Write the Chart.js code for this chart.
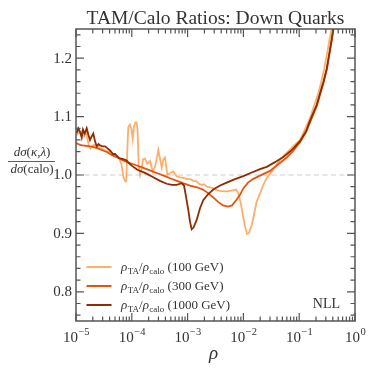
<!DOCTYPE html>
<html>
<head>
<meta charset="utf-8">
<script src="https://cdn.jsdelivr.net/npm/chart.js@4/dist/chart.umd.min.js"></script>
<style>
  html, body { margin: 0; padding: 0; background: #fff; }
</style>
</head>
<body>
<canvas id="ratios" width="374" height="374"></canvas>
<script>
// values; rho is stored as log10(rho)
var logRho100 = [-4.987,-4.955,-4.916,-4.884,-4.857,-4.821,-4.794,-4.767,-4.740,-4.713,-4.677,-4.642,-4.606,-4.570,-4.516,-4.462,-4.409,-4.355,-4.283,-4.229,-4.185,-4.152,-4.122,-4.100,-4.081,-4.063,-4.032,-4.005,-3.984,-3.961,-3.934,-3.916,-3.898,-3.876,-3.853,-3.826,-3.799,-3.763,-3.722,-3.674,-3.625,-3.584,-3.548,-3.525,-3.504,-3.464,-3.432,-3.405,-3.384,-3.364,-3.315,-3.256,-3.195,-3.136,-3.077,-3.011,-2.957,-2.894,-2.837,-2.796,-2.747,-2.706,-2.658,-2.599,-2.539,-2.473,-2.419,-2.348,-2.294,-2.240,-2.181,-2.133,-2.097,-2.043,-2.007,-1.971,-1.935,-1.900,-1.851,-1.810,-1.762,-1.703,-1.649,-1.582,-1.505,-1.403,-1.326,-1.224,-1.111,-0.986,-0.896,-0.806,-0.735,-0.663,-0.609,-0.556,-0.502,-0.457,-0.412];
var ratio100 = [1.068,1.073,1.070,1.076,1.066,1.074,1.062,1.048,1.045,1.050,1.052,1.047,1.050,1.046,1.044,1.041,1.040,1.035,1.031,1.029,1.018,0.997,0.990,0.989,1.040,1.082,1.086,1.078,1.062,1.083,1.090,1.090,1.080,1.015,1.000,1.010,1.027,1.028,1.019,1.024,1.006,1.014,1.030,1.043,1.033,1.013,1.027,1.030,1.016,1.000,1.003,1.006,0.998,0.996,0.995,0.993,0.993,0.990,0.989,0.985,0.983,0.984,0.980,0.979,0.977,0.974,0.973,0.972,0.972,0.973,0.974,0.975,0.970,0.950,0.930,0.912,0.899,0.901,0.914,0.932,0.955,0.968,0.982,0.995,1.004,1.018,1.028,1.038,1.049,1.060,1.078,1.098,1.118,1.138,1.158,1.180,1.207,1.232,1.252];

var logRho300 = [-5.000,-4.916,-4.821,-4.737,-4.618,-4.516,-4.439,-4.355,-4.260,-4.176,-4.081,-3.961,-3.841,-3.674,-3.543,-3.405,-3.303,-3.190,-3.082,-2.957,-2.832,-2.724,-2.634,-2.545,-2.455,-2.366,-2.276,-2.204,-2.120,-2.061,-2.002,-1.918,-1.828,-1.703,-1.523,-1.380,-1.224,-1.111,-0.986,-0.878,-0.806,-0.686,-0.627,-0.564,-0.507,-0.457,-0.418,-0.382];
var ratio300 = [1.055,1.051,1.050,1.049,1.046,1.042,1.039,1.034,1.030,1.026,1.022,1.018,1.014,1.008,1.003,0.998,0.994,0.990,0.986,0.982,0.979,0.975,0.969,0.962,0.954,0.948,0.946,0.948,0.958,0.966,0.977,0.987,0.993,0.999,1.007,1.018,1.030,1.041,1.056,1.073,1.090,1.118,1.137,1.158,1.180,1.208,1.230,1.252];

var logRho1000 = [-4.987,-4.959,-4.928,-4.898,-4.875,-4.844,-4.808,-4.776,-4.749,-4.719,-4.690,-4.660,-4.629,-4.597,-4.570,-4.529,-4.480,-4.439,-4.391,-4.337,-4.301,-4.229,-4.152,-4.091,-4.050,-4.002,-3.901,-3.794,-3.710,-3.615,-3.495,-3.375,-3.280,-3.195,-3.106,-3.064,-3.023,-2.987,-2.957,-2.927,-2.894,-2.837,-2.778,-2.719,-2.634,-2.539,-2.419,-2.299,-2.151,-2.002,-1.882,-1.703,-1.582,-1.434,-1.285,-1.129,-0.986,-0.878,-0.806,-0.686,-0.627,-0.564,-0.507,-0.457,-0.418,-0.385];
var ratio1000 = [1.072,1.080,1.074,1.064,1.078,1.071,1.080,1.068,1.060,1.066,1.071,1.058,1.049,1.053,1.051,1.049,1.049,1.046,1.042,1.036,1.036,1.029,1.027,1.025,1.020,1.016,1.009,1.005,1.001,0.996,0.990,0.985,0.983,0.983,0.986,0.982,0.960,0.940,0.920,0.907,0.910,0.923,0.943,0.957,0.967,0.975,0.982,0.987,0.993,0.998,1.003,1.010,1.014,1.022,1.031,1.043,1.058,1.075,1.093,1.120,1.140,1.160,1.182,1.210,1.232,1.252];

var seriesNames = ['(100 GeV)', '(300 GeV)', '(1000 GeV)'];
var seriesColors = ['#fdae6b', '#e6550d', '#8c2d04'];

var xMajor = [1e-5, 1e-4, 1e-3, 1e-2, 1e-1, 1];
var xExponents = ['\u22125', '\u22124', '\u22123', '\u22122', '\u22121', '0'];
var yMajor = [0.8, 0.9, 1.0, 1.1, 1.2];
var yTickLabels = ['0.8', '0.9', '1.0', '1.1', '1.2'];
var unity = 1.0;

var serif = '"Liberation Serif", "DejaVu Serif", serif';

function toPoints(lx, vals) {
	var pts = [];
	for (var i = 0; i < lx.length; i++) {
		pts.push({x: Math.pow(10, lx[i]), y: vals[i]});
	}
	return pts;
}

// draws "rho_TA/rho_calo" and returns end x
function drawRhoRatio(ctx, x, y, size) {
	var sub = Math.round(size * 0.7);
	ctx.font = 'italic ' + size + 'px ' + serif;
	ctx.fillText('\u03c1', x, y); x += ctx.measureText('\u03c1').width + 0.5;
	ctx.font = sub + 'px ' + serif;
	ctx.fillText('TA', x, y + 2.5); x += ctx.measureText('TA').width;
	ctx.font = size + 'px ' + serif;
	ctx.fillText('/', x, y); x += ctx.measureText('/').width;
	ctx.font = 'italic ' + size + 'px ' + serif;
	ctx.fillText('\u03c1', x, y); x += ctx.measureText('\u03c1').width + 0.5;
	ctx.font = sub + 'px ' + serif;
	ctx.fillText('calo', x, y + 2.5); x += ctx.measureText('calo').width;
	return x;
}

function drawPieces(ctx, pieces, x, y, size) {
	for (var i = 0; i < pieces.length; i++) {
		ctx.font = (pieces[i][1] ? 'italic ' : '') + size + 'px ' + serif;
		ctx.fillText(pieces[i][0], x, y);
		x += ctx.measureText(pieces[i][0]).width;
	}
	return x;
}

function piecesWidth(ctx, pieces, size) {
	var w = 0;
	for (var i = 0; i < pieces.length; i++) {
		ctx.font = (pieces[i][1] ? 'italic ' : '') + size + 'px ' + serif;
		w += ctx.measureText(pieces[i][0]).width;
	}
	return w;
}

var decor = {
	id: 'decor',
	beforeDatasetsDraw: function(chart) {
		var ctx = chart.ctx, a = chart.chartArea;
		var py = chart.scales.y.getPixelForValue(unity);
		ctx.save();
		ctx.strokeStyle = '#cccccc';
		ctx.lineWidth = 1;
		ctx.setLineDash([5, 3.5]);
		ctx.beginPath();
		ctx.moveTo(a.left, py);
		ctx.lineTo(a.right, py);
		ctx.stroke();
		ctx.restore();
	},
	afterDraw: function(chart) {
		var ctx = chart.ctx, a = chart.chartArea;
		var xs = chart.scales.x, ys = chart.scales.y;
		ctx.save();
		ctx.strokeStyle = '#555555';
		ctx.lineWidth = 1.2;

		// ticks, inward on all four sides
		ctx.beginPath();
		for (var d = -5; d <= 0; d++) {
			var px = xs.getPixelForValue(Math.pow(10, d));
			ctx.moveTo(px, a.bottom); ctx.lineTo(px, a.bottom - 8);
			ctx.moveTo(px, a.top); ctx.lineTo(px, a.top + 8);
			if (d < 0) {
				for (var k = 2; k <= 9; k++) {
					var pm = xs.getPixelForValue(k * Math.pow(10, d));
					ctx.moveTo(pm, a.bottom); ctx.lineTo(pm, a.bottom - 4.5);
					ctx.moveTo(pm, a.top); ctx.lineTo(pm, a.top + 4.5);
				}
			}
		}
		for (var j = 38; j <= 62; j++) {
			var v = j / 50;
			var qy = ys.getPixelForValue(v);
			var len = (j % 5 === 0) ? 8 : 4.5;
			ctx.moveTo(a.left, qy); ctx.lineTo(a.left + len, qy);
			ctx.moveTo(a.right, qy); ctx.lineTo(a.right - len, qy);
		}
		ctx.stroke();

		// frame
		ctx.lineWidth = 1.5;
		ctx.strokeRect(a.left, a.top, a.right - a.left, a.bottom - a.top);

		ctx.fillStyle = '#333333';
		ctx.textBaseline = 'alphabetic';

		// x tick labels 10^n
		for (var i = 0; i < xMajor.length; i++) {
			var cx = xs.getPixelForValue(xMajor[i]);
			ctx.font = '15px ' + serif;
			var w10 = ctx.measureText('10').width;
			ctx.font = '10.5px ' + serif;
			var we = ctx.measureText(xExponents[i]).width;
			var x0 = cx - (w10 + we) / 2;
			ctx.font = '15px ' + serif;
			ctx.textAlign = 'left';
			ctx.fillText('10', x0, 341.5);
			ctx.font = '10.5px ' + serif;
			ctx.fillText(xExponents[i], x0 + w10 + 0.5, 335);
		}

		// y tick labels
		ctx.font = '15px ' + serif;
		ctx.textAlign = 'right';
		ctx.textBaseline = 'middle';
		for (var m = 0; m < yMajor.length; m++) {
			ctx.fillText(yTickLabels[m], 72, ys.getPixelForValue(yMajor[m]) + 0.5);
		}

		// title
		ctx.textBaseline = 'alphabetic';
		ctx.textAlign = 'center';
		ctx.font = '19.5px ' + serif;
		ctx.fillText('TAM/Calo Ratios: Down Quarks', (a.left + a.right) / 2, 24);

		// x axis label
		ctx.font = 'italic 19px ' + serif;
		ctx.fillText('\u03c1', (a.left + a.right) / 2 - 2, 359);

		// y axis label as a fraction
		ctx.textAlign = 'left';
		var num = [['d\u03c3', true], ['(', false], ['\u03ba,\u03bb', true], [')', false]];
		var den = [['d\u03c3', true], ['(calo)', false]];
		var fs = 13;
		var fc = 32;
		drawPieces(ctx, num, fc - piecesWidth(ctx, num, fs) / 2, 156, fs);
		drawPieces(ctx, den, fc - piecesWidth(ctx, den, fs) / 2, 172.5, fs);
		ctx.lineWidth = 0.8;
		ctx.strokeStyle = '#333333';
		ctx.beginPath();
		ctx.moveTo(8, 161.5); ctx.lineTo(55, 161.5);
		ctx.stroke();

		// legend
		var ly = [267, 286, 305];
		for (var s = 0; s < seriesNames.length; s++) {
			ctx.strokeStyle = seriesColors[s];
			ctx.lineWidth = 2;
			ctx.beginPath();
			ctx.moveTo(86.5, ly[s]); ctx.lineTo(111.5, ly[s]);
			ctx.stroke();
			ctx.fillStyle = '#333333';
			var ex = drawRhoRatio(ctx, 121, ly[s] + 4, 13);
			ctx.font = '13px ' + serif;
			ctx.fillText(' ' + seriesNames[s], ex, ly[s] + 4);
		}

		// order label
		ctx.textAlign = 'right';
		ctx.font = '14px ' + serif;
		ctx.fillText('NLL', 340, 308);
		ctx.restore();
	}
};

window.onload = function() {
	var ctx = document.getElementById('ratios').getContext('2d');
	var chart = new Chart(ctx, {
		type: 'line',
		data: {
			datasets: [
				{ data: toPoints(logRho100, ratio100), borderColor: seriesColors[0], order: 3 },
				{ data: toPoints(logRho300, ratio300), borderColor: seriesColors[1], order: 2 },
				{ data: toPoints(logRho1000, ratio1000), borderColor: seriesColors[2], order: 1 }
			]
		},
		options: {
			responsive: false,
			animation: false,
			devicePixelRatio: 1,
			parsing: false,
			layout: { padding: { top: 29, right: 19, left: 0, bottom: 0 } },
			elements: {
				line: { borderWidth: 1.8, tension: 0, fill: false },
				point: { radius: 0 }
			},
			plugins: { legend: { display: false }, tooltip: { enabled: false }, title: { display: false } },
			scales: {
				x: {
					type: 'logarithmic', min: 1e-5, max: 1,
					grid: { display: false }, border: { display: false },
					ticks: { display: false },
					afterFit: function(s) { s.height = 53; }
				},
				y: {
					type: 'linear', min: 0.75, max: 1.25,
					grid: { display: false }, border: { display: false },
					ticks: { display: false },
					afterFit: function(s) { s.width = 76; }
				}
			}
		},
		plugins: [decor]
	});
};
</script>
</body>
</html>
